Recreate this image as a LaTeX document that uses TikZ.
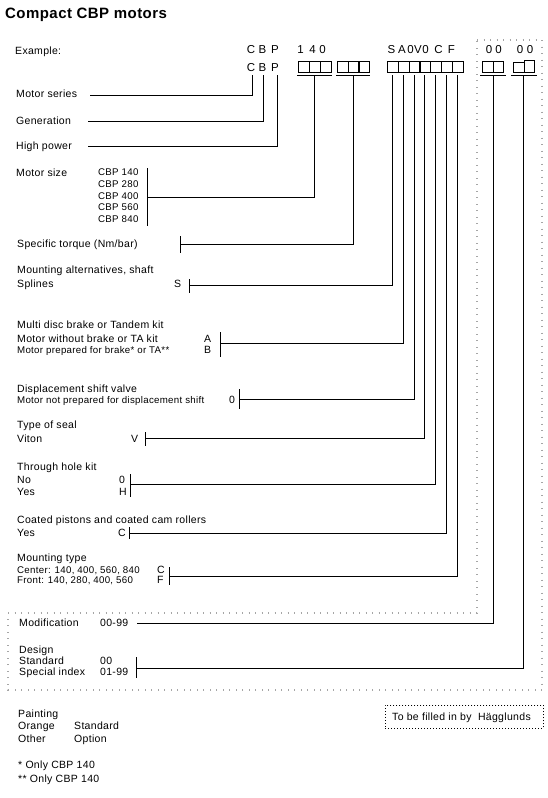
\documentclass[tikz,border=0pt]{standalone}
\usepackage{fontspec}
\setmainfont{Liberation Sans}[LetterSpace=3]
\begin{document}
\begin{tikzpicture}[x=1pt,y=-1pt,
  lbl/.style={anchor=base west, inner sep=0pt, font=\fontsize{10.5}{12}\selectfont},
  sml/.style={anchor=base west, inner sep=0pt, font=\fontsize{9.7}{11}\selectfont},
  codech/.style={anchor=base, inner sep=0pt, font=\fontsize{11.5}{13}\selectfont},
  conn/.style={line width=0.8pt},
  cell/.style={draw, line width=1.1pt, minimum width=10.8pt, minimum height=10.5pt, inner sep=0pt, anchor=north west},
  hag/.style={dash pattern=on 1pt off 5.5pt, line width=1.1pt, gray!70},
  fillbox/.style={draw, dash pattern=on 1pt off 2pt, line width=0.8pt, inner sep=0pt, anchor=north west, minimum width=158pt, minimum height=23pt}
]
\useasboundingbox (0,0) rectangle (548,798);

% title
\node[anchor=base west, inner sep=0pt, font=\bfseries\fontsize{15}{17}\selectfont] (title) at (5,18.5) {Compact CBP motors};
\node[anchor=base west, inner sep=0pt, font=\fontsize{10.5}{12}\selectfont] (example) at (15,54.5) {Example:};

% example code row
\node[codech] (e1) at (251,53.5) {C};
\node[codech] (e2) at (262.5,53.5) {B};
\node[codech] (e3) at (275,53.5) {P};
\node[codech] (e4) at (300.5,53.5) {1};
\node[codech] (e5) at (312.5,53.5) {4};
\node[codech] (e6) at (322.5,53.5) {0};
\node[codech] (e7) at (391.5,53.5) {S};
\node[codech] (e8) at (402,53.5) {A};
\node[codech] (e9) at (410.5,53.5) {0};
\node[codech] (e10) at (418,53.5) {V};
\node[codech] (e11) at (425.5,53.5) {0};
\node[codech] (e12) at (438.5,53.5) {C};
\node[codech] (e13) at (451.5,53.5) {F};
\node[codech] (e14) at (489,53.5) {0};
\node[codech] (e15) at (498.5,53.5) {0};
\node[codech] (e16) at (520,53.5) {0};
\node[codech] (e17) at (530,53.5) {0};

% second row
\node[codech] (c1) at (251,71.5) {C};
\node[codech] (c2) at (262.5,71.5) {B};
\node[codech] (c3) at (275,71.5) {P};

% cells
\node[cell, minimum width=11pt] (s1) at (298,61) {};
\node[cell, minimum width=11pt] (s2) at (309,61) {};
\node[cell, minimum width=11pt] (s3) at (320,61) {};
\node[cell, minimum width=10.7pt] (t1) at (337,61) {};
\node[cell, minimum width=10.7pt] (t2) at (347.7,61) {};
\node[cell, minimum width=10.7pt] (t3) at (358.4,61) {};
\foreach \k in {0,...,6} {
  \node[cell] (m\k) at ({387+\k*10.8},61) {};
}
\node[cell, minimum width=10.5pt] (d1) at (482,61) {};
\node[cell, minimum width=10.5pt] (d2) at (492.5,61) {};
\node[cell, minimum width=10.5pt] (d3) at (513,61.5) {};
\node[cell, minimum width=10.5pt, minimum height=11.5pt] (d4) at (523.5,60) {};

% underlines
\draw[conn] (297,75) coordinate (u1a) -- (332,75) coordinate (u1b);
\draw[conn] (336,75) coordinate (u2a) -- (370,75) coordinate (u2b);
\draw[conn] (480,75) coordinate (u3a) -- (506,75) coordinate (u3b);
\draw[conn] (511,75) coordinate (u4a) -- (537,75) coordinate (u4b);

% top ends of connectors
\coordinate (vC) at (252,75);
\coordinate (vB) at (263,75);
\coordinate (vP) at (277,75);
\coordinate (vS1) at (314.5,75);
\coordinate (vS2) at (353,75);
\foreach \k in {0,...,6} { \coordinate (vm\k) at ({392.4+\k*10.8},75); }
\coordinate (vD1) at (493,75);
\coordinate (vD2) at (523.5,75);

% labels
\node[lbl] (ms) at (16,97.5) {Motor series};
\node[lbl] (gen) at (16,124) {Generation};
\node[lbl] (hp) at (16,149) {High power};

\node[lbl] (msz) at (16,176) {Motor size};
\node[sml] (z1) at (98,175.5) {CBP 140};
\node[sml] (z2) at (98,187.3) {CBP 280};
\node[sml] (z3) at (98,199.1) {CBP 400};
\node[sml] (z4) at (98,210.9) {CBP 560};
\node[sml] (z5) at (98,222.7) {CBP 840};

\node[lbl] (st) at (17,247) {Specific torque (Nm/bar)};

\node[lbl] (ma) at (17,273) {Mounting alternatives, shaft};
\node[lbl] (spl) at (17,287) {Splines};
\node[lbl] (splc) at (174,287) {S};

\node[lbl] (mdb) at (17,328) {Multi disc brake or Tandem kit};
\node[lbl] (mwb) at (17,342) {Motor without brake or TA kit};
\node[sml] (mpb) at (17,353.5) {Motor prepared for brake* or TA**};
\node[lbl] (ca) at (204,342) {A};
\node[lbl] (cb) at (204,353.5) {B};

\node[lbl] (dsv) at (17,392) {Displacement shift valve};
\node[sml] (mnp) at (17,403) {Motor not prepared for displacement shift};
\node[lbl] (c0) at (229,403.5) {0};

\node[lbl] (tos) at (17,428) {Type of seal};
\node[lbl] (vit) at (17,442) {Viton};
\node[lbl] (cv) at (131,442) {V};

\node[lbl] (thk) at (17,470) {Through hole kit};
\node[lbl] (no) at (17,483) {No};
\node[lbl] (yes1) at (17,495.5) {Yes};
\node[lbl] (cn0) at (119,483) {0};
\node[lbl] (ch) at (119,495.5) {H};

\node[lbl] (cpr) at (17,523) {Coated pistons and coated cam rollers};
\node[lbl] (yes2) at (17,536) {Yes};
\node[lbl] (cc) at (118,536) {C};

\node[lbl] (mt) at (17,561) {Mounting type};
\node[sml] (cen) at (17,573) {Center: 140, 400, 560, 840};
\node[sml] (fro) at (17,583.5) {Front: 140, 280, 400, 560};
\node[lbl] (cc2) at (157,573) {C};
\node[lbl] (cf) at (157,583.5) {F};

\node[lbl] (mod) at (19,626) {Modification};
\node[lbl] (modc) at (100,626) {00-99};

\node[lbl] (des) at (19,653) {Design};
\node[lbl] (std) at (19,664.5) {Standard};
\node[lbl] (spi) at (19,675.5) {Special index};
\node[lbl] (c00) at (100,664.5) {00};
\node[lbl] (c0199) at (100,675.5) {01-99};

\node[lbl] (pnt) at (18,717) {Painting};
\node[lbl] (ora) at (18,729.5) {Orange};
\node[lbl] (oth) at (18,742) {Other};
\node[lbl] (stdp) at (74,729.5) {Standard};
\node[lbl] (opt) at (74,742) {Option};

\node[lbl] (fn1) at (18,768) {* Only CBP 140};
\node[lbl] (fn2) at (18,782) {** Only CBP 140};

\node[fillbox] (fb) at (385,705) {};
\node[lbl] (fbt) at (392,720) {To be filled in by\ \ Hägglunds};

% bar coordinates and connector ends
\coordinate (msE) at (90,95);
\coordinate (genE) at (88,121);
\coordinate (hpE) at (88,146);
\coordinate (b1t) at (147.5,168); \coordinate (b1b) at (147.5,226); \coordinate (b1m) at (147.5,197);
\coordinate (b2t) at (180,236); \coordinate (b2b) at (180,253); \coordinate (b2m) at (180,244);
\coordinate (b3t) at (189,279); \coordinate (b3b) at (189,293); \coordinate (b3m) at (189,285);
\coordinate (b4t) at (220,332); \coordinate (b4b) at (220,357); \coordinate (b4m) at (220,343);
\coordinate (b5t) at (239.5,389); \coordinate (b5b) at (239.5,409); \coordinate (b5m) at (239.5,399);
\coordinate (b6t) at (145,432); \coordinate (b6b) at (145,446); \coordinate (b6m) at (145,438);
\coordinate (b7t) at (130,474); \coordinate (b7b) at (130,497); \coordinate (b7m) at (130,484);
\coordinate (b8t) at (129,527); \coordinate (b8b) at (129,539); \coordinate (b8m) at (129,533);
\coordinate (b9t) at (169,567); \coordinate (b9b) at (169,585); \coordinate (b9m) at (169,576);
\coordinate (b10m) at (137,623);
\coordinate (b11t) at (136.5,657); \coordinate (b11b) at (136.5,678); \coordinate (b11m) at (136.5,668);

% bars
\foreach \b in {1,2,3,4,5,6,7,8,9,11} { \draw[conn] (b\b t) -- (b\b b); }

% connectors
\draw[conn] (vC) |- (msE);
\draw[conn] (vB) |- (genE);
\draw[conn] (vP) |- (hpE);
\draw[conn] (vS1) |- (b1m);
\draw[conn] (vS2) |- (b2m);
\draw[conn] (vm0) |- (b3m);
\draw[conn] (vm1) |- (b4m);
\draw[conn] (vm2) |- (b5m);
\draw[conn] (vm3) |- (b6m);
\draw[conn] (vm4) |- (b7m);
\draw[conn] (vm5) |- (b8m);
\draw[conn] (vm6) |- (b9m);
\draw[conn] (vD1) |- (b10m);
\draw[conn] (vD2) |- (b11m);

% dotted outline of the area filled in by Hagglunds
\draw[hag] (477,40) -- (542,40) -- (542,690) -- (8,690) -- (8,613) -- (477,613) -- cycle;
\end{tikzpicture}
\end{document}
